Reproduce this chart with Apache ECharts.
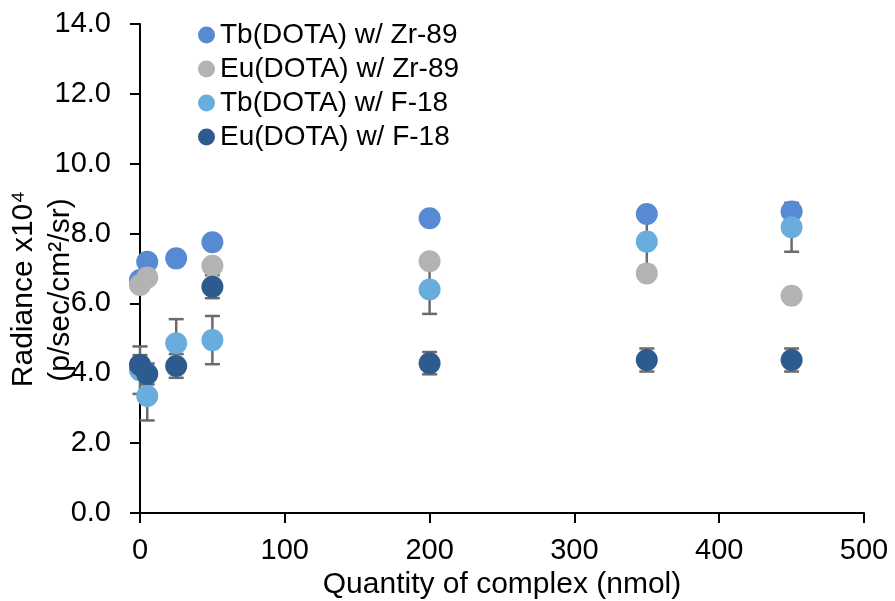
<!DOCTYPE html>
<html>
<head>
<meta charset="utf-8">
<script src="https://cdn.jsdelivr.net/npm/echarts@6/dist/echarts.min.js"></script>
<style>html,body{margin:0;padding:0;background:#fff}#c{width:895px;height:601px}</style>
</head>
<body>
<div id="c"></div>
<script>
var xs = [0, 5, 25, 50, 200, 350, 450];
var tbZr = [6.67, 7.19, 7.29, 7.75, 8.44, 8.56, 8.63];
var euZr = [6.53, 6.74, null, 7.08, 7.21, 6.86, 6.22];
var tbF = [4.09, 3.35, 4.86, 4.95, 6.40, 7.77, 8.18];
var euF = [4.24, 3.98, 4.21, 6.48, 4.29, 4.38, 4.38];
var tbFErr = [0.68, 0.70, 0.69, 0.69, 0.70, 0.70, 0.70];
var euFErr = [0.28, 0.30, 0.34, 0.33, 0.32, 0.33, 0.33];
var names = ['Tb(DOTA) w/ Zr-89', 'Eu(DOTA) w/ Zr-89', 'Tb(DOTA) w/ F-18', 'Eu(DOTA) w/ F-18'];
var colors = ['#578AD2', '#B3B3B3', '#69ACDE', '#2E5B8F'];
var yTitle1 = 'Radiance x10\u2074';
var yTitle2 = '(p/sec/cm\u00B2/sr)';
var xTitle = 'Quantity of complex (nmol)';

function pts(vals) {
  var out = [];
  for (var i = 0; i < xs.length; i++) if (vals[i] != null) out.push([xs[i], vals[i]]);
  return out;
}
function errData(vals, errs) {
  var out = [];
  for (var i = 0; i < xs.length; i++) if (vals[i] != null) out.push([xs[i], vals[i] - errs[i], vals[i] + errs[i]]);
  return out;
}
function errSeries(vals, errs) {
  return {
    type: 'custom', z: 1, silent: true,
    data: errData(vals, errs),
    encode: { x: 0, y: [1, 2] },
    renderItem: function (params, api) {
      var lo = api.coord([api.value(0), api.value(1)]);
      var hi = api.coord([api.value(0), api.value(2)]);
      var w = 7.5;
      var st = { stroke: '#6B6B6B', lineWidth: 2.5 };
      return { type: 'group', children: [
        { type: 'line', shape: { x1: lo[0], y1: lo[1], x2: hi[0], y2: hi[1] }, style: st },
        { type: 'line', shape: { x1: lo[0] - w, y1: lo[1], x2: lo[0] + w, y2: lo[1] }, style: st },
        { type: 'line', shape: { x1: hi[0] - w, y1: hi[1], x2: hi[0] + w, y2: hi[1] }, style: st }
      ]};
    }
  };
}
var font = '"Liberation Sans", Arial, sans-serif';
var chart = echarts.init(document.getElementById('c'), null, { renderer: 'canvas' });
var series = [errSeries(tbF, tbFErr), errSeries(euF, euFErr)];
[tbZr, euZr, tbF, euF].forEach(function (v, i) {
  series.push({
    name: names[i], type: 'scatter', z: 2 + i, symbol: 'circle', symbolSize: 22,
    itemStyle: { color: colors[i], opacity: 1 },
    data: pts(v)
  });
});
chart.setOption({
  animation: false,
  backgroundColor: '#fff',
  grid: { left: 140, right: 31, top: 24, bottom: 88, containLabel: false, outerBoundsMode: 'none' },
  legend: {
    orient: 'vertical', left: 198, top: 21, itemGap: 6, padding: 0,
    icon: 'circle', itemWidth: 17, itemHeight: 17,
    data: names,
    textStyle: { fontFamily: font, fontSize: 28, lineHeight: 28, color: '#000' }
  },
  xAxis: {
    type: 'value', min: 0, max: 500, interval: 100,
    axisLine: { show: true, onZero: false, lineStyle: { color: '#000', width: 2 } },
    axisTick: { show: true, inside: false, length: 10, lineStyle: { color: '#000', width: 2 } },
    axisLabel: { fontFamily: font, fontSize: 29, color: '#000', margin: 23 },
    splitLine: { show: false },
    name: xTitle, nameLocation: 'middle', nameGap: 52,
    nameTextStyle: { fontFamily: font, fontSize: 30, color: '#000' }
  },
  yAxis: {
    type: 'value', min: 0, max: 14, interval: 2,
    axisLine: { show: true, lineStyle: { color: '#000', width: 2 } },
    axisTick: { show: true, inside: false, length: 10, lineStyle: { color: '#000', width: 2 } },
    axisLabel: { fontFamily: font, fontSize: 29, color: '#000', margin: 29, formatter: function (v) { return v.toFixed(1); } },
    splitLine: { show: false }
  },
  graphic: [
    { type: 'text', x: 24, y: 289, rotation: Math.PI / 2,
      style: { text: yTitle1, fontFamily: font, fontSize: 30, fill: '#000', align: 'center', verticalAlign: 'middle' } },
    { type: 'text', x: 61, y: 290, rotation: Math.PI / 2,
      style: { text: yTitle2, fontFamily: font, fontSize: 30, fill: '#000', align: 'center', verticalAlign: 'middle' } }
  ],
  series: series
});
</script>
</body>
</html>
